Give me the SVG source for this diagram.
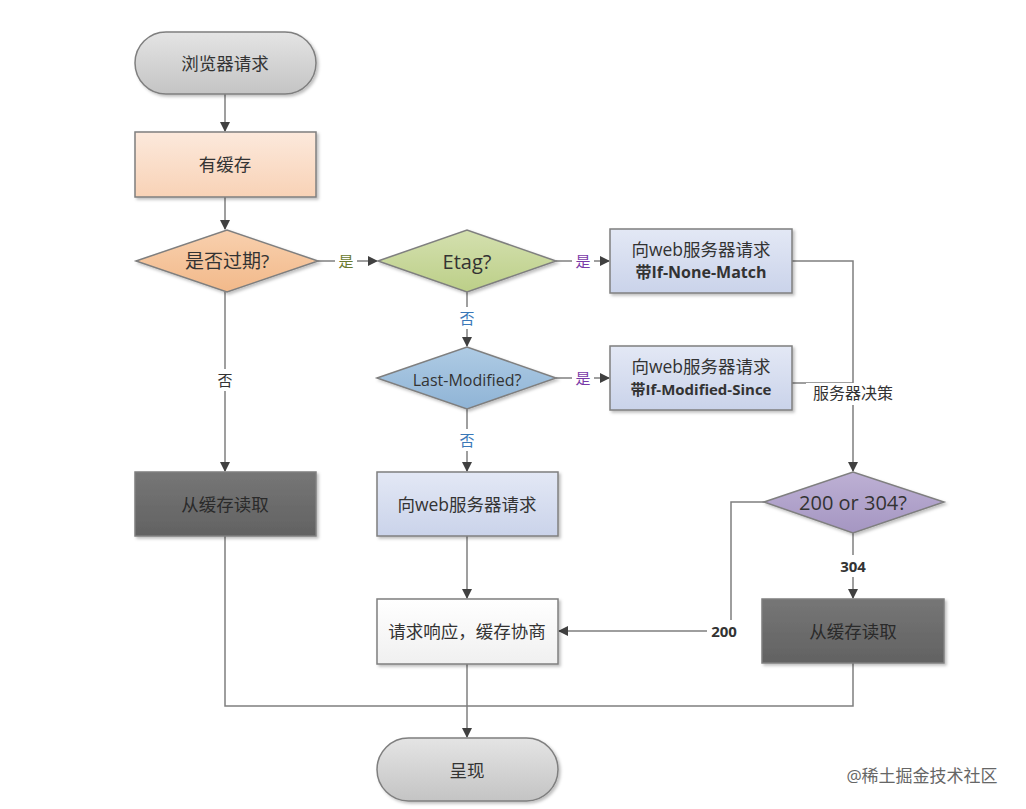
<svg xmlns="http://www.w3.org/2000/svg" width="1026" height="809" viewBox="0 0 1026 809">
<style>
text{font-family:"Open Sans","Noto Sans","Noto Sans CJK SC",sans-serif;text-anchor:middle;dominant-baseline:central;fill:#333}
.n{stroke:#7f7f7f;stroke-width:1.5;filter:url(#sh)}
.c{fill:none;stroke:#7f7f7f;stroke-width:1.5}
.a{marker-end:url(#ar)}
.t{font-size:17.5px}
.b{font-size:16px;font-weight:bold}
.l{font-size:15px}
.lb{fill:#fff}
</style>
<defs>
<filter id="sh" x="-10%" y="-10%" width="125%" height="130%"><feDropShadow dx="2" dy="2" stdDeviation="1.5" flood-color="#000" flood-opacity="0.25"/></filter>
<marker id="ar" markerWidth="10" markerHeight="10" refX="9" refY="5" orient="auto" markerUnits="userSpaceOnUse"><path d="M0,0 L10,5 L0,10 z" fill="#404040"/></marker>
<linearGradient id="gGray" x1="0" y1="0" x2="0" y2="1"><stop offset="0" stop-color="#e4e4e4"/><stop offset="1" stop-color="#c4c4c4"/></linearGradient>
<linearGradient id="gPeach" x1="0" y1="0" x2="0" y2="1"><stop offset="0" stop-color="#fce9dc"/><stop offset="1" stop-color="#f8d2b6"/></linearGradient>
<linearGradient id="gOrange" x1="0" y1="0" x2="0" y2="1"><stop offset="0" stop-color="#f8d0ae"/><stop offset="1" stop-color="#f2b98a"/></linearGradient>
<linearGradient id="gGreen" x1="0" y1="0" x2="0" y2="1"><stop offset="0" stop-color="#d4e0af"/><stop offset="1" stop-color="#bccf88"/></linearGradient>
<linearGradient id="gBlue" x1="0" y1="0" x2="0" y2="1"><stop offset="0" stop-color="#aecbe4"/><stop offset="1" stop-color="#8fb4d6"/></linearGradient>
<linearGradient id="gLav" x1="0" y1="0" x2="0" y2="1"><stop offset="0" stop-color="#e3e8f5"/><stop offset="1" stop-color="#cad3ea"/></linearGradient>
<linearGradient id="gDark" x1="0" y1="0" x2="0" y2="1"><stop offset="0" stop-color="#767676"/><stop offset="1" stop-color="#626262"/></linearGradient>
<linearGradient id="gPurple" x1="0" y1="0" x2="0" y2="1"><stop offset="0" stop-color="#bdb0d4"/><stop offset="1" stop-color="#a596c2"/></linearGradient>
<linearGradient id="gWhite" x1="0" y1="0" x2="0" y2="1"><stop offset="0" stop-color="#ffffff"/><stop offset="1" stop-color="#f0f0f0"/></linearGradient>
</defs>

<g id="connectors">
<line class="c a" x1="225" y1="94" x2="225" y2="131"/>
<line class="c a" x1="225" y1="197" x2="225" y2="229"/>
<line class="c a" x1="318" y1="261" x2="377" y2="261"/>
<line class="c a" x1="556" y1="261" x2="609" y2="261"/>
<line class="c a" x1="467" y1="292" x2="467" y2="346"/>
<line class="c a" x1="556" y1="378" x2="609" y2="378"/>
<line class="c a" x1="467" y1="409" x2="467" y2="471"/>
<line class="c a" x1="225" y1="292" x2="225" y2="471"/>
<polyline class="c a" points="792,261 853,261 853,471"/>
<line class="c" x1="792" y1="383" x2="853" y2="383"/>
<polyline class="c a" points="764,502 731,502 731,631 559,631"/>
<line class="c a" x1="853" y1="533" x2="853" y2="598"/>
<line class="c a" x1="467" y1="536" x2="467" y2="598"/>
<line class="c a" x1="467" y1="664" x2="467" y2="737"/>
<polyline class="c" points="225,536 225,706 853,706 853,663"/>

<rect class="lb" x="335" y="250" width="22" height="22"/>
<text class="l" x="346" y="261" style="fill:#6a7a30">是</text>
<rect class="lb" x="572" y="250" width="22" height="22"/>
<text class="l" x="583" y="261" style="fill:#7a3aa8">是</text>
<rect class="lb" x="456" y="307" width="22" height="22"/>
<text class="l" x="467" y="318" style="fill:#3a78b8">否</text>
<rect class="lb" x="572" y="367" width="22" height="22"/>
<text class="l" x="583" y="378" style="fill:#7a3aa8">是</text>
<rect class="lb" x="456" y="429" width="22" height="22"/>
<text class="l" x="467" y="440" style="fill:#3a78b8">否</text>
<rect class="lb" x="214" y="369" width="22" height="22"/>
<text class="l" x="225" y="380">否</text>
<rect class="lb" x="806" y="383" width="94" height="22"/>
<text x="853" y="393" style="font-size:16px">服务器决策</text>
<rect class="lb" x="836" y="555" width="34" height="22"/>
<text class="l" x="853" y="566" style="font-weight:bold">304</text>
<rect class="lb" x="707" y="620" width="34" height="22"/>
<text class="l" x="724" y="631" style="font-weight:bold">200</text>
</g>

<g id="start">
<rect class="n" x="135" y="32" width="181" height="62" rx="31" fill="url(#gGray)"/>
<text class="t" x="225" y="63">浏览器请求</text>
</g>
<g id="hasCache">
<rect class="n" x="135" y="132" width="181" height="65" fill="url(#gPeach)"/>
<text class="t" x="225" y="164">有缓存</text>
</g>
<g id="expired">
<polygon class="n" points="136,261 227,230 318,261 227,292" fill="url(#gOrange)"/>
<text x="227" y="261" style="font-size:19px">是否过期?</text>
</g>
<g id="etag">
<polygon class="n" points="378,261 467,230 556,261 467,292" fill="url(#gGreen)"/>
<text x="467" y="261" style="font-size:20px">Etag?</text>
</g>
<g id="reqNoneMatch">
<rect class="n" x="610" y="229" width="182" height="64" fill="url(#gLav)"/>
<text class="t" x="701" y="249">向web服务器请求</text>
<text class="b" x="701" y="272">带If-None-Match</text>
</g>
<g id="lastModified">
<polygon class="n" points="377,378 467,347 556,378 467,409" fill="url(#gBlue)"/>
<text x="467" y="380" style="font-size:16px">Last-Modified?</text>
</g>
<g id="reqModifiedSince">
<rect class="n" x="610" y="346" width="182" height="64" fill="url(#gLav)"/>
<text class="t" x="701" y="366">向web服务器请求</text>
<text class="b" x="701" y="389" style="font-size:15px">带If-Modified-Since</text>
</g>
<g id="readCacheLeft">
<rect class="n" x="135" y="472" width="181" height="64" fill="url(#gDark)"/>
<text class="t" x="225" y="504" style="fill:#2a2a2a">从缓存读取</text>
</g>
<g id="reqServer">
<rect class="n" x="377" y="472" width="181" height="64" fill="url(#gLav)"/>
<text class="t" x="467" y="504">向web服务器请求</text>
</g>
<g id="status">
<polygon class="n" points="764,502 853,472 944,502 853,533" fill="url(#gPurple)"/>
<text x="853" y="502" style="font-size:20px">200 or 304?</text>
</g>
<g id="response">
<rect class="n" x="377" y="599" width="181" height="65" fill="url(#gWhite)"/>
<text class="t" x="467" y="631">请求响应，缓存协商</text>
</g>
<g id="readCacheRight">
<rect class="n" x="762" y="599" width="182" height="64" fill="url(#gDark)"/>
<text class="t" x="853" y="631" style="fill:#2a2a2a">从缓存读取</text>
</g>
<g id="render">
<rect class="n" x="377" y="738" width="181" height="63" rx="31.5" fill="url(#gGray)"/>
<text class="t" x="467" y="770">呈现</text>
</g>
<text x="922" y="775" style="font-size:17px;fill:#666">@稀土掘金技术社区</text>
</svg>
